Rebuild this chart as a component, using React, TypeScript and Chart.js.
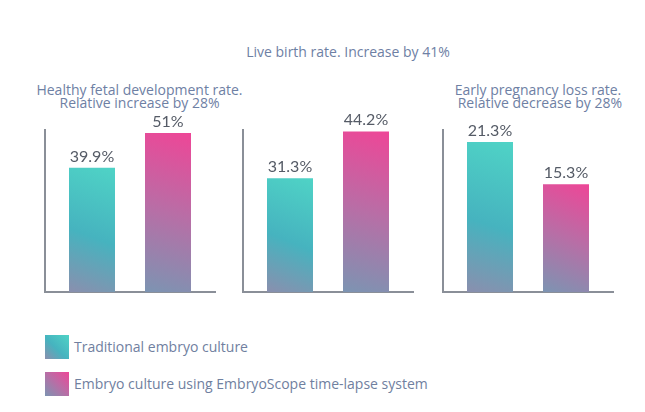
import React, { useEffect, useRef } from 'react';
import { Chart, registerables } from 'chart.js';

Chart.register(...registerables);

// ---- data ----
const categories = ['Healthy fetal development', 'Live birth', 'Early pregnancy loss'];
const chartTitles: string[][] = [
  ['Healthy fetal development rate.', 'Relative increase by 28%'],
  ['Live birth rate. Increase by 41%'],
  ['Early pregnancy loss rate.', ' Relative decrease by 28%'],
];
const seriesNames = ['Traditional embryo culture', 'Embryo culture using EmbryoScope time-lapse system'];
const traditionalValues = [39.9, 31.3, 21.3];
const embryoScopeValues = [51, 44.2, 15.3];
const axisMax = [52, 44.6, 23];

// ---- style ----
const AXIS_COLOR = '#8a8f98';
const TITLE_COLOR = '#6e80a4';
const LEGEND_COLOR = '#7080a0';
const LABEL_COLOR = '#555b66';
const seriesStops: [number, string][][] = [
  [
    [0, '#8a8fae'],
    [0.45, '#46b3bf'],
    [1, '#4fd3c6'],
  ],
  [
    [0, '#7c94b2'],
    [0.5, '#b86ea6'],
    [1, '#ee4697'],
  ],
];
const swatchCss = seriesStops.map(
  (st) => `linear-gradient(to top right, ${st.map(([o, c]) => `${c} ${o * 100}%`).join(', ')})`
);

const chartBoxes = [
  { left: 35, top: 100, width: 190, height: 200 },
  { left: 233, top: 100, width: 190, height: 200 },
  { left: 433, top: 100, width: 190, height: 200 },
];
const titleBoxes = [
  { center: 139.5, top: 82.5 },
  { center: 348, top: 44.5 },
  { center: 538, top: 82.5 },
];

const gradientPlugin = {
  id: 'barGradient',
  beforeDatasetsDraw(chart: any) {
    const ctx = chart.ctx;
    chart.data.datasets.forEach((_ds: any, di: number) => {
      const meta = chart.getDatasetMeta(di);
      const stops = seriesStops[di];
      meta.data.forEach((el: any) => {
        const { x, y, base, width } = el.getProps(['x', 'y', 'base', 'width'], true);
        const g = ctx.createLinearGradient(x - width / 2, base, x + width / 2, y);
        stops.forEach(([o, c]) => g.addColorStop(o, c));
        el.options.backgroundColor = g;
      });
    });
  },
};

const valueLabelPlugin = {
  id: 'valueLabels',
  afterDatasetsDraw(chart: any) {
    const ctx = chart.ctx;
    ctx.save();
    ctx.font = '16px Lato';
    ctx.fillStyle = LABEL_COLOR;
    ctx.textAlign = 'center';
    ctx.textBaseline = 'alphabetic';
    chart.data.datasets.forEach((ds: any, di: number) => {
      const meta = chart.getDatasetMeta(di);
      meta.data.forEach((el: any, i: number) => {
        ctx.fillText(`${ds.data[i]}%`, el.x, el.y - 6);
      });
    });
    ctx.restore();
  },
};

function MiniChart({ index }: { index: number }) {
  const ref = useRef<HTMLCanvasElement | null>(null);
  useEffect(() => {
    if (!ref.current) return;
    const seriesValues = [traditionalValues, embryoScopeValues];
    const chart = new Chart(ref.current, {
      type: 'bar',
      data: {
        labels: [categories[index]],
        datasets: seriesNames.map((name, si) => ({
          label: name,
          data: [seriesValues[si][index]],
          backgroundColor: () => seriesStops[si][1][1],
          borderWidth: 0,
        })),
      },
      options: {
        animation: false,
        responsive: true,
        maintainAspectRatio: false,
        layout: { padding: { left: 10, right: 10, top: 30, bottom: 8 } },
        datasets: { bar: { categoryPercentage: 152 / 170, barPercentage: 46 / 76 } },
        plugins: {
          legend: { display: false },
          title: { display: false },
          tooltip: { enabled: false },
        },
        scales: {
          x: {
            grid: { display: false, drawTicks: false },
            ticks: { display: false },
            border: { display: true, color: AXIS_COLOR, width: 2 },
          },
          y: {
            min: 0,
            max: axisMax[index],
            grid: { display: false, drawTicks: false },
            ticks: { display: false },
            border: { display: true, color: AXIS_COLOR, width: 2 },
          },
        },
      } as any,
      plugins: [gradientPlugin, valueLabelPlugin],
    });
    return () => chart.destroy();
  }, [index]);
  const b = chartBoxes[index];
  return (
    <div style={{ position: 'absolute', left: b.left, top: b.top, width: b.width, height: b.height }}>
      <canvas ref={ref} />
    </div>
  );
}

export default function App() {
  return (
    <div
      style={{
        position: 'absolute',
        left: 0,
        top: 0,
        width: 645,
        height: 412,
        background: '#fff',
        overflow: 'hidden',
        fontFamily: '"Open Sans", sans-serif',
      }}
    >
      {chartTitles.map((lines, i) => (
        <div
          key={'t' + i}
          style={{
            position: 'absolute',
            left: titleBoxes[i].center - 150,
            width: 300,
            top: titleBoxes[i].top,
            textAlign: 'center',
            fontSize: 14,
            lineHeight: '13px',
            color: TITLE_COLOR,
            whiteSpace: 'pre',
          }}
        >
          {lines.join('\n')}
        </div>
      ))}
      {categories.map((_c, i) => (
        <MiniChart key={i} index={i} />
      ))}
      {seriesNames.map((name, si) => (
        <div
          key={'l' + si}
          style={{ position: 'absolute', left: 45, top: 335 + si * 37, height: 24, display: 'flex', alignItems: 'center' }}
        >
          <div style={{ width: 24, height: 24, background: swatchCss[si], marginRight: 5 }} />
          <span style={{ fontSize: 14, color: LEGEND_COLOR, lineHeight: '14px' }}>{name}</span>
        </div>
      ))}
    </div>
  );
}
